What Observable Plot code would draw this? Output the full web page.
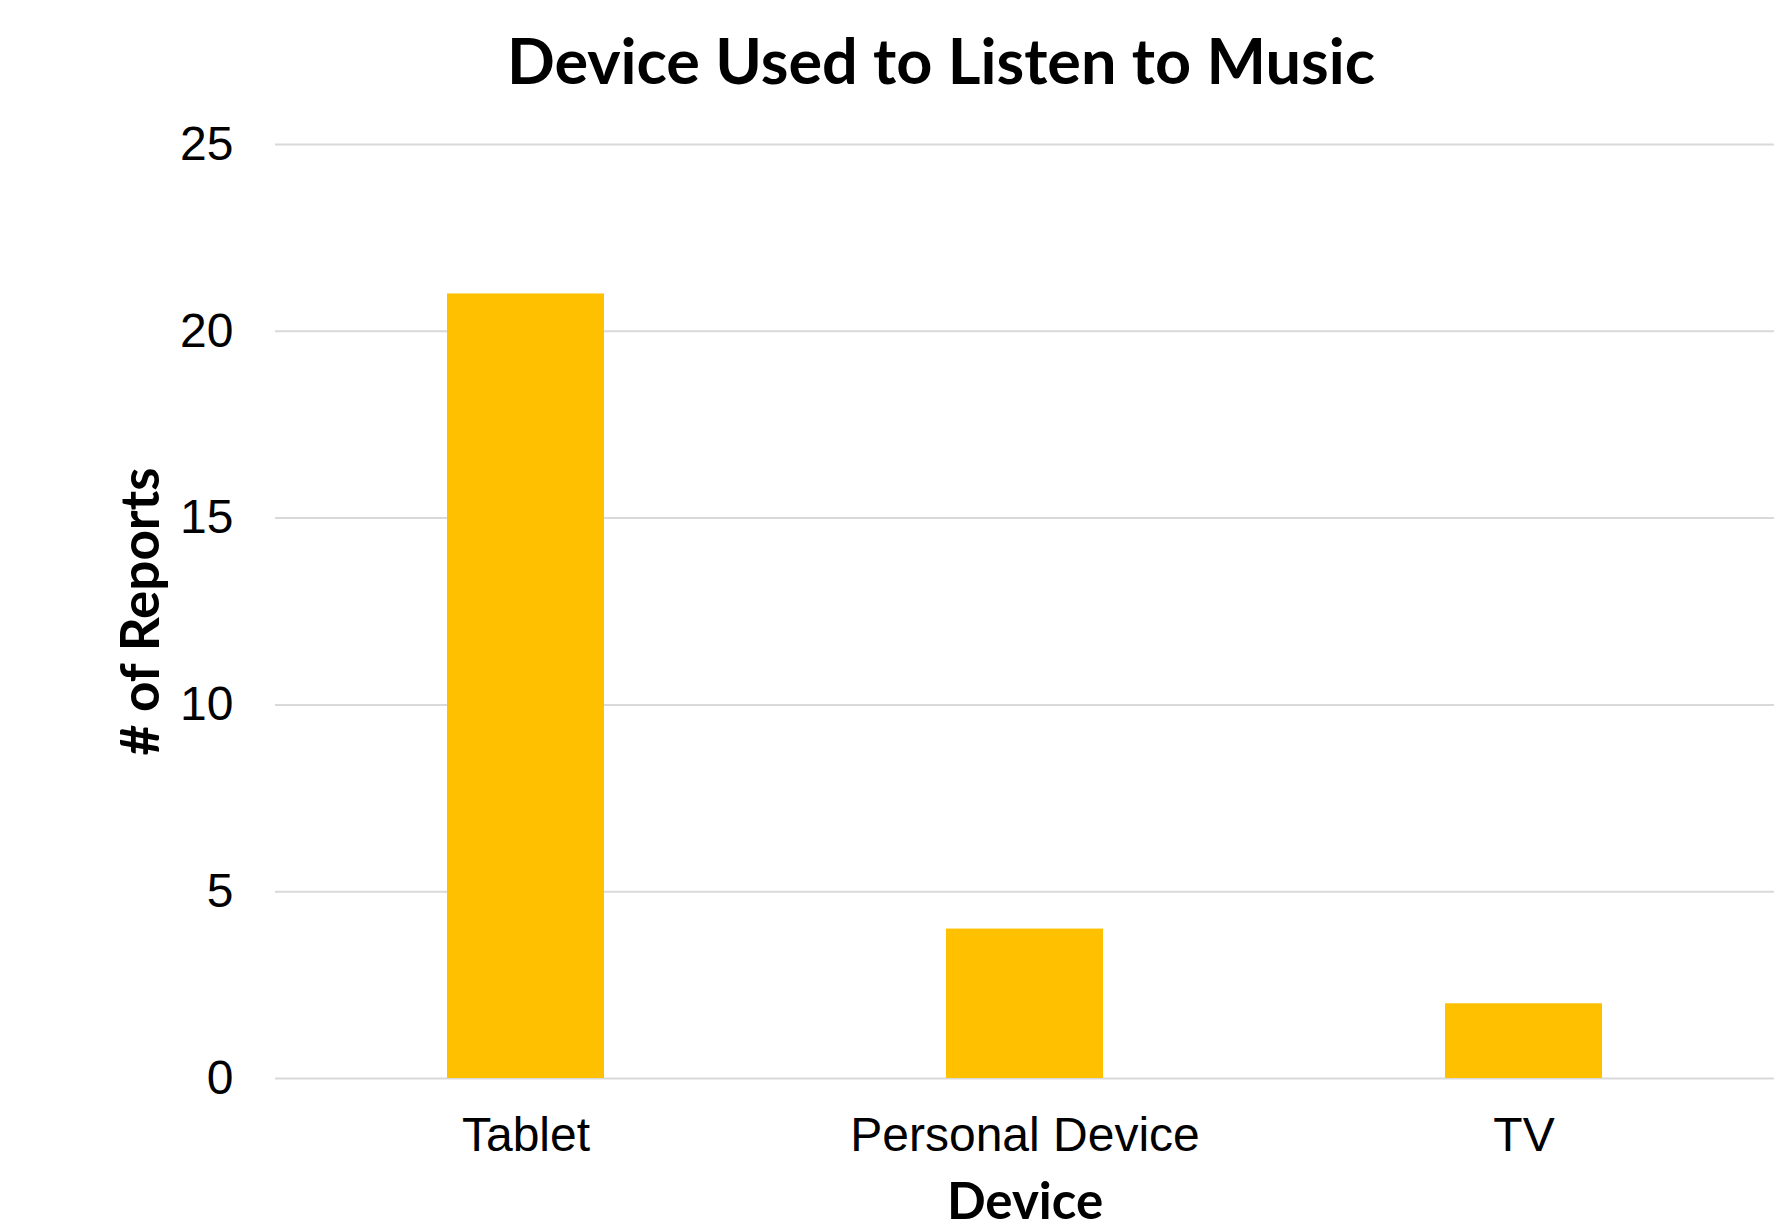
<!DOCTYPE html>
<html>
<head>
<meta charset="utf-8">
<script src="https://cdn.jsdelivr.net/npm/d3@7"></script>
<script src="https://cdn.jsdelivr.net/npm/@observablehq/plot@0.6"></script>
<style>
  html, body { margin: 0; padding: 0; background: #fff; }
  svg { display: block; }
</style>
</head>
<body>
<div id="chart"></div>
<script>
const devices = ["Tablet", "Personal Device", "TV"];
const reports = [21, 4, 2];
const yTicks = [0, 5, 10, 15, 20, 25];
const titleText = "Device Used to Listen to Music";
const xLabel = "Device";
const yLabel = "# of Reports";

const data = devices.map((d, i) => ({device: d, value: reports[i]}));

const chart = Plot.plot({
  width: 1781,
  height: 1232,
  marginLeft: 275,
  marginRight: 7,
  marginTop: 144,
  marginBottom: 154,
  style: {fontFamily: "'Liberation Sans', Arial, sans-serif", fontSize: "48px", color: "#000", background: "#fff"},
  x: {domain: devices, paddingInner: 0.686, paddingOuter: 0.343, align: 0.5, label: null},
  y: {domain: [0, 25], label: null},
  marks: [
    Plot.ruleY(yTicks, {stroke: "#d9d9d9", strokeWidth: 2}),
    Plot.barY(data, {x: "device", y: "value", fill: "#FFC000"}),
    Plot.axisY(yTicks, {tickSize: 0, tickPadding: 42, fontSize: 48, label: null}),
    Plot.axisX({tickSize: 0, tickPadding: 38, fontSize: 48, label: null}),
    Plot.text([titleText], {frameAnchor: "top", lineAnchor: "middle", textAnchor: "middle", dx: -84, dy: -81, fontSize: 63, fontWeight: "bold", fontFamily: "Lato, sans-serif", fill: "#000"}),
    Plot.text([xLabel], {frameAnchor: "bottom", lineAnchor: "middle", textAnchor: "middle", dy: 124, fontSize: 51, fontWeight: "bold", fontFamily: "Lato, sans-serif", fill: "#000"}),
    Plot.text([yLabel], {frameAnchor: "left", lineAnchor: "middle", textAnchor: "middle", dx: -133, rotate: -90, fontSize: 53, fontWeight: "bold", fontFamily: "Lato, sans-serif", fill: "#000"})
  ]
});
document.getElementById("chart").appendChild(chart);
</script>
</body>
</html>
